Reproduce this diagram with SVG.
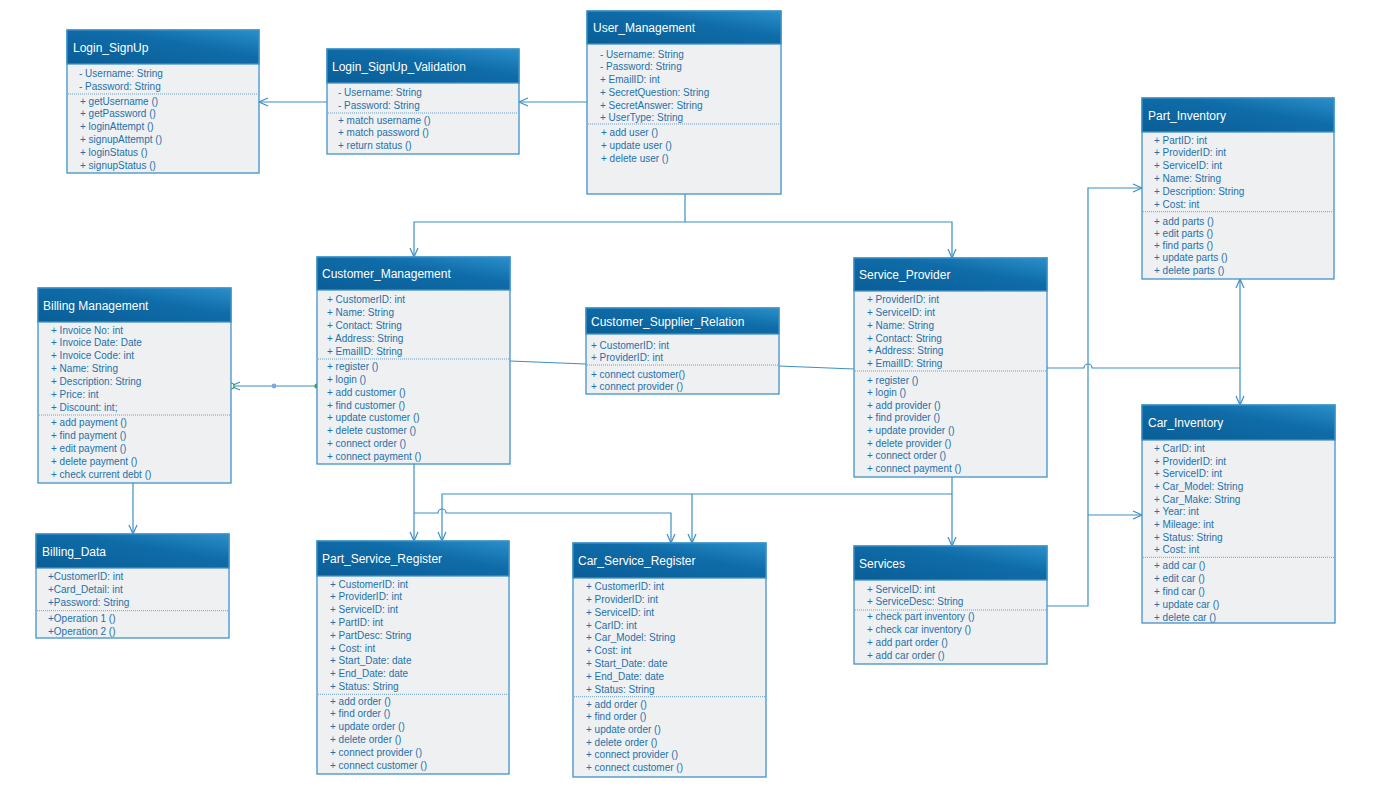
<svg xmlns="http://www.w3.org/2000/svg" width="1375" height="792" viewBox="0 0 1375 792">
  <defs>
    <linearGradient id="hdr" x1="0" y1="1" x2="1" y2="0">
      <stop offset="0" stop-color="#0a5e97"/>
      <stop offset="0.6" stop-color="#0f6ca8"/>
      <stop offset="1" stop-color="#2a8fca"/>
    </linearGradient>
    <marker id="arr" markerUnits="userSpaceOnUse" markerWidth="12" markerHeight="10" refX="10" refY="5" orient="auto">
      <path d="M1,1 L10,5 L1,9" fill="none" stroke="#3d8fc4" stroke-width="1.2"/>
    </marker>
  </defs>
  <style>
    .body { fill: #eff0f2; stroke: #3f93c8; stroke-width: 1.3; }
    .head { fill: url(#hdr); stroke: #3f93c8; stroke-width: 1.3; }
    .title { font-family: "Liberation Sans", Arial, sans-serif; font-size: 12px; fill: #ffffff; }
    .item { font-family: "Liberation Sans", Arial, sans-serif; font-size: 10px; fill: #2470aa; }
    .sep { stroke: #6f9fc2; stroke-width: 1; stroke-dasharray: 1 1; }
    .conn path { fill: none; stroke: #3d8fc4; stroke-width: 1.2; }
    .conn .a { marker-end: url(#arr); }
  </style>
  <rect width="1375" height="792" fill="#ffffff"/>

  <!-- connectors -->
  <g id="connectors" class="conn">
    <path class="a" d="M327,102 H259"/>
    <path class="a" d="M587,102 H519"/>
    <path d="M685,194 V222"/>
    <path class="a" d="M685,222 H414 V257"/>
    <path class="a" d="M685,222 H952 V258"/>
    <path class="a" d="M317,386 H231"/>
    <path class="a" d="M133,483 V534"/>
    <path d="M510,361 L586,364"/>
    <path d="M779,366 L854,369"/>
    <path d="M1047,368 H1084 a4,4 0 0 1 8,0 H1240"/>
    <path class="a" d="M1240,368 V279"/>
    <path class="a" d="M1240,368 V405"/>
    <path class="a" d="M1047,606 H1088 V188 H1142"/>
    <path class="a" d="M1088,515 H1142"/>
    <path class="a" d="M952,477 V546"/>
    <path class="a" d="M952,494 H442 V541"/>
    <path class="a" d="M692,494 V543"/>
    <path class="a" d="M414,464 V541"/>
    <path class="a" d="M414,513 H438 a4,4 0 0 1 8,0 H671 V543"/>
    <circle cx="317" cy="386" r="2.6" fill="#33a83c"/>
    <circle cx="274" cy="386" r="2.4" fill="#7da9da"/>
    <circle cx="231" cy="386" r="3" fill="#ffffff" stroke="#33a83c" stroke-width="1.2"/>
  </g>

  <!-- Login_SignUp -->
  <g id="login-signup">
    <rect class="body" x="67" y="30" width="192" height="143"/>
    <rect class="head" x="67" y="30" width="192" height="34"/>
    <text class="title" x="73" y="51.5">Login_SignUp</text>
    <text class="item" x="79" y="77">- Username: String</text>
    <text class="item" x="79" y="89.8">- Password: String</text>
    <line class="sep" x1="68" y1="94" x2="258" y2="94"/>
    <text class="item" x="80" y="104.6">+ getUsername ()</text>
    <text class="item" x="80" y="117.4">+ getPassword ()</text>
    <text class="item" x="80" y="130.2">+ loginAttempt ()</text>
    <text class="item" x="80" y="143">+ signupAttempt ()</text>
    <text class="item" x="80" y="155.8">+ loginStatus ()</text>
    <text class="item" x="80" y="168.6">+ signupStatus ()</text>
  </g>

  <!-- Login_SignUp_Validation -->
  <g id="login-signup-validation">
    <rect class="body" x="327" y="49" width="192" height="105"/>
    <rect class="head" x="327" y="49" width="192" height="34"/>
    <text class="title" x="332" y="70.5">Login_SignUp_Validation</text>
    <text class="item" x="338" y="95.8">- Username: String</text>
    <text class="item" x="338" y="108.6">- Password: String</text>
    <line class="sep" x1="328" y1="113" x2="518" y2="113"/>
    <text class="item" x="338" y="123.6">+ match username ()</text>
    <text class="item" x="338" y="136.4">+ match password ()</text>
    <text class="item" x="338" y="149.2">+ return status ()</text>
  </g>

  <!-- User_Management -->
  <g id="user-management">
    <rect class="body" x="587" y="11" width="194" height="183"/>
    <rect class="head" x="587" y="11" width="194" height="33"/>
    <text class="title" x="593" y="32">User_Management</text>
    <text class="item" x="600" y="57.6">- Username: String</text>
    <text class="item" x="600" y="70.4">- Password: String</text>
    <text class="item" x="600" y="83.2">+ EmailID: int</text>
    <text class="item" x="600" y="96">+ SecretQuestion: String</text>
    <text class="item" x="600" y="108.8">+ SecretAnswer: String</text>
    <text class="item" x="600" y="121">+ UserType: String</text>
    <line class="sep" x1="588" y1="124" x2="780" y2="124"/>
    <text class="item" x="601" y="136">+ add user ()</text>
    <text class="item" x="601" y="149">+ update user ()</text>
    <text class="item" x="601" y="162">+ delete user ()</text>
  </g>

  <!-- Part_Inventory -->
  <g id="part-inventory">
    <rect class="body" x="1142" y="98" width="192" height="181"/>
    <rect class="head" x="1142" y="98" width="192" height="34"/>
    <text class="title" x="1148" y="119.5">Part_Inventory</text>
    <text class="item" x="1154" y="143.5">+ PartID: int</text>
    <text class="item" x="1154" y="156.4">+ ProviderID: int</text>
    <text class="item" x="1154" y="169.3">+ ServiceID: int</text>
    <text class="item" x="1154" y="182.2">+ Name: String</text>
    <text class="item" x="1154" y="195.1">+ Description: String</text>
    <text class="item" x="1154" y="208">+ Cost: int</text>
    <line class="sep" x1="1143" y1="211.7" x2="1333" y2="211.7"/>
    <text class="item" x="1154" y="224.5">+ add parts ()</text>
    <text class="item" x="1154" y="236.8">+ edit parts ()</text>
    <text class="item" x="1154" y="249.1">+ find parts ()</text>
    <text class="item" x="1154" y="261.4">+ update parts ()</text>
    <text class="item" x="1154" y="273.7">+ delete parts ()</text>
  </g>

  <!-- Billing Management -->
  <g id="billing-management">
    <rect class="body" x="38" y="288" width="193" height="195"/>
    <rect class="head" x="38" y="288" width="193" height="34"/>
    <text class="title" x="43" y="309.5">Billing Management</text>
    <text class="item" x="51" y="333.5">+ Invoice No: int</text>
    <text class="item" x="51" y="346.4">+ Invoice Date: Date</text>
    <text class="item" x="51" y="359.3">+ Invoice Code: int</text>
    <text class="item" x="51" y="372.2">+ Name: String</text>
    <text class="item" x="51" y="385.1">+ Description: String</text>
    <text class="item" x="51" y="398">+ Price: int</text>
    <text class="item" x="51" y="410.9">+ Discount: int;</text>
    <line class="sep" x1="39" y1="415" x2="230" y2="415"/>
    <text class="item" x="51" y="426">+ add payment ()</text>
    <text class="item" x="51" y="438.9">+ find payment ()</text>
    <text class="item" x="51" y="451.8">+ edit payment ()</text>
    <text class="item" x="51" y="464.7">+ delete payment ()</text>
    <text class="item" x="51" y="477.6">+ check current debt ()</text>
  </g>

  <!-- Customer_Management -->
  <g id="customer-management">
    <rect class="body" x="317" y="257" width="193" height="207"/>
    <rect class="head" x="317" y="257" width="193" height="33"/>
    <text class="title" x="322" y="278">Customer_Management</text>
    <text class="item" x="327" y="302.6">+ CustomerID: int</text>
    <text class="item" x="327" y="315.8">+ Name: String</text>
    <text class="item" x="327" y="328.9">+ Contact: String</text>
    <text class="item" x="327" y="342.1">+ Address: String</text>
    <text class="item" x="327" y="355.2">+ EmailID: String</text>
    <line class="sep" x1="318" y1="359" x2="509" y2="359"/>
    <text class="item" x="327" y="370.3">+ register ()</text>
    <text class="item" x="327" y="383">+ login ()</text>
    <text class="item" x="327" y="395.8">+ add customer ()</text>
    <text class="item" x="327" y="408.6">+ find customer ()</text>
    <text class="item" x="327" y="421.3">+ update customer ()</text>
    <text class="item" x="327" y="434.1">+ delete customer ()</text>
    <text class="item" x="327" y="446.9">+ connect order ()</text>
    <text class="item" x="327" y="459.6">+ connect payment ()</text>
  </g>

  <!-- Customer_Supplier_Relation -->
  <g id="customer-supplier-relation">
    <rect class="body" x="586" y="308" width="193" height="86"/>
    <rect class="head" x="586" y="308" width="193" height="26"/>
    <text class="title" x="591" y="325.5">Customer_Supplier_Relation</text>
    <text class="item" x="591" y="348.6">+ CustomerID: int</text>
    <text class="item" x="591" y="361.4">+ ProviderID: int</text>
    <line class="sep" x1="587" y1="365" x2="778" y2="365"/>
    <text class="item" x="591" y="377.6">+ connect customer()</text>
    <text class="item" x="591" y="390.3">+ connect provider ()</text>
  </g>

  <!-- Service_Provider -->
  <g id="service-provider">
    <rect class="body" x="854" y="258" width="193" height="219"/>
    <rect class="head" x="854" y="258" width="193" height="33"/>
    <text class="title" x="859" y="279">Service_Provider</text>
    <text class="item" x="867" y="302.8">+ ProviderID: int</text>
    <text class="item" x="867" y="315.7">+ ServiceID: int</text>
    <text class="item" x="867" y="328.6">+ Name: String</text>
    <text class="item" x="867" y="341.5">+ Contact: String</text>
    <text class="item" x="867" y="354.4">+ Address: String</text>
    <text class="item" x="867" y="367.3">+ EmailID: String</text>
    <line class="sep" x1="855" y1="371" x2="1046" y2="371"/>
    <text class="item" x="867" y="383.6">+ register ()</text>
    <text class="item" x="867" y="396.2">+ login ()</text>
    <text class="item" x="867" y="408.8">+ add provider ()</text>
    <text class="item" x="867" y="421.4">+ find provider ()</text>
    <text class="item" x="867" y="434">+ update provider ()</text>
    <text class="item" x="867" y="446.6">+ delete provider ()</text>
    <text class="item" x="867" y="459.2">+ connect order ()</text>
    <text class="item" x="867" y="471.8">+ connect payment ()</text>
  </g>

  <!-- Car_Inventory -->
  <g id="car-inventory">
    <rect class="body" x="1142" y="405" width="193" height="218"/>
    <rect class="head" x="1142" y="405" width="193" height="35"/>
    <text class="title" x="1148" y="427">Car_Inventory</text>
    <text class="item" x="1154" y="451.8">+ CarID: int</text>
    <text class="item" x="1154" y="464.5">+ ProviderID: int</text>
    <text class="item" x="1154" y="477.2">+ ServiceID: int</text>
    <text class="item" x="1154" y="489.9">+ Car_Model: String</text>
    <text class="item" x="1154" y="502.6">+ Car_Make: String</text>
    <text class="item" x="1154" y="515.3">+ Year: int</text>
    <text class="item" x="1154" y="528">+ Mileage: int</text>
    <text class="item" x="1154" y="540.7">+ Status: String</text>
    <text class="item" x="1154" y="553.4">+ Cost: int</text>
    <line class="sep" x1="1143" y1="557.3" x2="1334" y2="557.3"/>
    <text class="item" x="1154" y="568.6">+ add car ()</text>
    <text class="item" x="1154" y="581.6">+ edit car ()</text>
    <text class="item" x="1154" y="594.6">+ find car ()</text>
    <text class="item" x="1154" y="607.6">+ update car ()</text>
    <text class="item" x="1154" y="620.6">+ delete car ()</text>
  </g>

  <!-- Billing_Data -->
  <g id="billing-data">
    <rect class="body" x="36" y="534" width="193" height="104"/>
    <rect class="head" x="36" y="534" width="193" height="34"/>
    <text class="title" x="42" y="555.5">Billing_Data</text>
    <text class="item" x="48" y="580.2">+CustomerID: int</text>
    <text class="item" x="48" y="593.4">+Card_Detail: int</text>
    <text class="item" x="48" y="606.4">+Password: String</text>
    <line class="sep" x1="37" y1="610.7" x2="228" y2="610.7"/>
    <text class="item" x="48" y="621.8">+Operation 1 ()</text>
    <text class="item" x="48" y="635">+Operation 2 ()</text>
  </g>

  <!-- Part_Service_Register -->
  <g id="part-service-register">
    <rect class="body" x="317" y="541" width="192" height="233"/>
    <rect class="head" x="317" y="541" width="192" height="35"/>
    <text class="title" x="322" y="563">Part_Service_Register</text>
    <text class="item" x="330" y="587.6">+ CustomerID: int</text>
    <text class="item" x="330" y="600.4">+ ProviderID: int</text>
    <text class="item" x="330" y="613.2">+ ServiceID: int</text>
    <text class="item" x="330" y="626">+ PartID: int</text>
    <text class="item" x="330" y="638.8">+ PartDesc: String</text>
    <text class="item" x="330" y="651.6">+ Cost: int</text>
    <text class="item" x="330" y="664.4">+ Start_Date: date</text>
    <text class="item" x="330" y="677.2">+ End_Date: date</text>
    <text class="item" x="330" y="690">+ Status: String</text>
    <line class="sep" x1="318" y1="694.3" x2="508" y2="694.3"/>
    <text class="item" x="330" y="704.5">+ add order ()</text>
    <text class="item" x="330" y="717.4">+ find order ()</text>
    <text class="item" x="330" y="730.3">+ update order ()</text>
    <text class="item" x="330" y="743.2">+ delete order ()</text>
    <text class="item" x="330" y="756.1">+ connect provider ()</text>
    <text class="item" x="330" y="769">+ connect customer ()</text>
  </g>

  <!-- Car_Service_Register -->
  <g id="car-service-register">
    <rect class="body" x="573" y="543" width="193" height="234"/>
    <rect class="head" x="573" y="543" width="193" height="35"/>
    <text class="title" x="578" y="565">Car_Service_Register</text>
    <text class="item" x="586" y="590.2">+ CustomerID: int</text>
    <text class="item" x="586" y="603">+ ProviderID: int</text>
    <text class="item" x="586" y="615.8">+ ServiceID: int</text>
    <text class="item" x="586" y="628.5">+ CarID: int</text>
    <text class="item" x="586" y="641.3">+ Car_Model: String</text>
    <text class="item" x="586" y="654.1">+ Cost: int</text>
    <text class="item" x="586" y="666.9">+ Start_Date: date</text>
    <text class="item" x="586" y="679.7">+ End_Date: date</text>
    <text class="item" x="586" y="692.5">+ Status: String</text>
    <line class="sep" x1="574" y1="696.7" x2="765" y2="696.7"/>
    <text class="item" x="586" y="707.5">+ add order ()</text>
    <text class="item" x="586" y="720.2">+ find order ()</text>
    <text class="item" x="586" y="732.9">+ update order ()</text>
    <text class="item" x="586" y="745.6">+ delete order ()</text>
    <text class="item" x="586" y="758.4">+ connect provider ()</text>
    <text class="item" x="586" y="771.1">+ connect customer ()</text>
  </g>

  <!-- Services -->
  <g id="services">
    <rect class="body" x="854" y="546" width="193" height="118"/>
    <rect class="head" x="854" y="546" width="193" height="34"/>
    <text class="title" x="859" y="567.5">Services</text>
    <text class="item" x="867" y="592.5">+ ServiceID: int</text>
    <text class="item" x="867" y="605.2">+ ServiceDesc: String</text>
    <line class="sep" x1="855" y1="610" x2="1046" y2="610"/>
    <text class="item" x="867" y="620.2">+ check part inventory ()</text>
    <text class="item" x="867" y="633">+ check car inventory ()</text>
    <text class="item" x="867" y="645.7">+ add part order ()</text>
    <text class="item" x="867" y="658.5">+ add car order ()</text>
  </g>
</svg>
